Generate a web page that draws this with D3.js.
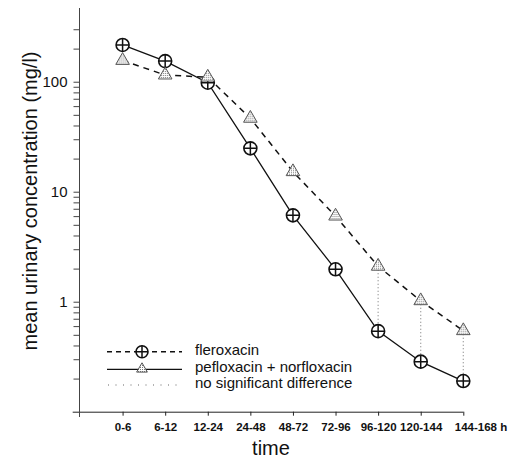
<!DOCTYPE html>
<html>
<head>
<meta charset="utf-8">
<script src="https://cdn.jsdelivr.net/npm/d3@7"></script>
<style>
  body { margin: 0; background: #fff; }
  text { font-family: "Liberation Sans", Arial, sans-serif; fill: #111; }
</style>
</head>
<body>
<div id="chart"></div>
<script>
// time intervals (h)
var categories = ["0-6", "6-12", "12-24", "24-48", "48-72", "72-96", "96-120", "120-144", "144-168"];
// circle-plus markers, solid line
var fleroxacin = [216, 154, 98, 24.8, 6.1, 1.97, 0.54, 0.285, 0.19];
// triangle markers, dashed line
var peflox = [156, 115, 110, 46.5, 15.2, 6.0, 2.1, 1.02, 0.545];
// intervals with no significant difference
var nsd = ["96-120", "120-144", "144-168"];
var yLabels = [1, 10, 100];
var yMinor = [0.2,0.3,0.4,0.5,0.6,0.7,0.8,0.9,1,2,3,4,5,6,7,8,9,10,20,30,40,50,60,70,80,90,100,200,300];

var width = 510, height = 461;
var svg = d3.select("#chart").append("svg")
    .attr("width", width)
    .attr("height", height);

var defs = svg.append("defs");
var pat = defs.append("pattern")
    .attr("id", "stipple")
    .attr("width", 2).attr("height", 2)
    .attr("patternUnits", "userSpaceOnUse");
pat.append("rect").attr("width", 2).attr("height", 2).attr("fill", "#fff");
pat.append("rect").attr("width", 1).attr("height", 1).attr("fill", "#777");

var x = d3.scaleLinear().domain([0, categories.length]).range([80, 463.3]);
function xc(c) { return x(categories.indexOf(c) + 1); }
var y = d3.scaleLog().domain([0.1, 468]).range([411.7, 8]);

// x axis
var xAxis = d3.axisBottom(x)
    .tickValues(d3.range(1, categories.length + 1))
    .tickSize(4)
    .tickFormat(function(d) { return categories[d - 1]; });
var gx = svg.append("g")
    .attr("transform", "translate(0,411.7)")
    .call(xAxis);
gx.select(".domain").attr("d", "M72.7,0.5H463.3").attr("stroke", "#222");
gx.selectAll(".tick line").attr("stroke", "#222");
gx.selectAll(".tick text")
    .attr("y", 11)
    .style("font-size", "11.5px")
    .style("font-weight", "bold")
    .attr("fill", "#111");
gx.selectAll(".tick").filter(function(d) { return d === categories.length; })
    .select("text").attr("text-anchor", "start").attr("x", -9)
    .text("144-168 h");

// y axis
var yAxis = d3.axisLeft(y)
    .tickValues(yMinor)
    .tickSize(6)
    .tickFormat(function(d) { return yLabels.indexOf(d) >= 0 ? d : ""; });
var gy = svg.append("g")
    .attr("transform", "translate(79.5,0)")
    .call(yAxis);
gy.select(".domain").attr("d", "M0,8V417").attr("stroke", "#444");
gy.selectAll(".tick line").attr("stroke", "#444");
gy.selectAll(".tick text")
    .attr("x", -12)
    .style("font-size", "15px")
    .attr("fill", "#111");

// axis titles
svg.append("text")
    .attr("transform", "translate(37," + 201 + ") rotate(-90)")
    .attr("text-anchor", "middle")
    .style("font-size", "20px")
    .text("mean urinary concentration (mg/l)");
svg.append("text")
    .attr("x", 271)
    .attr("y", 455)
    .attr("text-anchor", "middle")
    .style("font-size", "20px")
    .text("time");

// dotted lines where no significant difference
svg.selectAll(".nsd")
    .data(nsd)
    .enter().append("line")
    .attr("class", "nsd")
    .attr("x1", function(d) { return xc(d); })
    .attr("x2", function(d) { return xc(d); })
    .attr("y1", function(d) { return y(peflox[categories.indexOf(d)]); })
    .attr("y2", function(d) { return y(fleroxacin[categories.indexOf(d)]); })
    .attr("stroke", "#888")
    .attr("stroke-width", 1.2)
    .attr("stroke-dasharray", "1,2.5");

var line = d3.line()
    .x(function(d, i) { return x(i + 1); })
    .y(function(d) { return y(d); });

svg.append("path")
    .datum(peflox)
    .attr("d", line)
    .attr("fill", "none")
    .attr("stroke", "#111")
    .attr("stroke-width", 1.5)
    .attr("stroke-dasharray", "6,5");

svg.append("path")
    .datum(fleroxacin)
    .attr("d", line)
    .attr("fill", "none")
    .attr("stroke", "#111")
    .attr("stroke-width", 1.3);

function circlePlus(g, cx, cy, r) {
    g.append("circle").attr("cx", cx).attr("cy", cy).attr("r", r)
        .attr("fill", "#fff").attr("stroke", "#111").attr("stroke-width", 1.6);
    g.append("path")
        .attr("d", "M" + (cx - r) + "," + cy + "H" + (cx + r) + "M" + cx + "," + (cy - r) + "V" + (cy + r))
        .attr("stroke", "#111").attr("stroke-width", 1.5);
}
var tri = d3.symbol().type(d3.symbolTriangle);

var gc = svg.append("g");
fleroxacin.forEach(function(v, i) { circlePlus(gc, x(i + 1), y(v), 6.5); });

svg.selectAll(".tri")
    .data(peflox)
    .enter().append("path")
    .attr("class", "tri")
    .attr("transform", function(d, i) { return "translate(" + x(i + 1) + "," + y(d) + ")"; })
    .attr("d", tri.size(80))
    .attr("fill", "url(#stipple)")
    .attr("stroke", "#555")
    .attr("stroke-width", 1);

// legend
var lg = svg.append("g");
lg.append("line").attr("x1", 107).attr("x2", 182).attr("y1", 351.7).attr("y2", 351.7)
    .attr("stroke", "#111").attr("stroke-width", 1.5).attr("stroke-dasharray", "5,4");
circlePlus(lg, 142, 351.7, 6);
lg.append("line").attr("x1", 107).attr("x2", 182).attr("y1", 369.3).attr("y2", 369.3)
    .attr("stroke", "#111").attr("stroke-width", 1.3);
lg.append("path").attr("transform", "translate(142,369)")
    .attr("d", tri.size(50))
    .attr("fill", "url(#stipple)").attr("stroke", "#555");
lg.append("line").attr("x1", 108).attr("x2", 182).attr("y1", 385).attr("y2", 385)
    .attr("stroke", "#666").attr("stroke-width", 1.2).attr("stroke-dasharray", "1,6.5");
var legendText = ["fleroxacin", "pefloxacin + norfloxacin", "no significant difference"];
lg.selectAll(".lt")
    .data(legendText)
    .enter().append("text")
    .attr("x", 195)
    .attr("y", function(d, i) { return 355 + i * 16.5; })
    .style("font-size", "15px")
    .text(function(d) { return d; });
</script>
</body>
</html>
